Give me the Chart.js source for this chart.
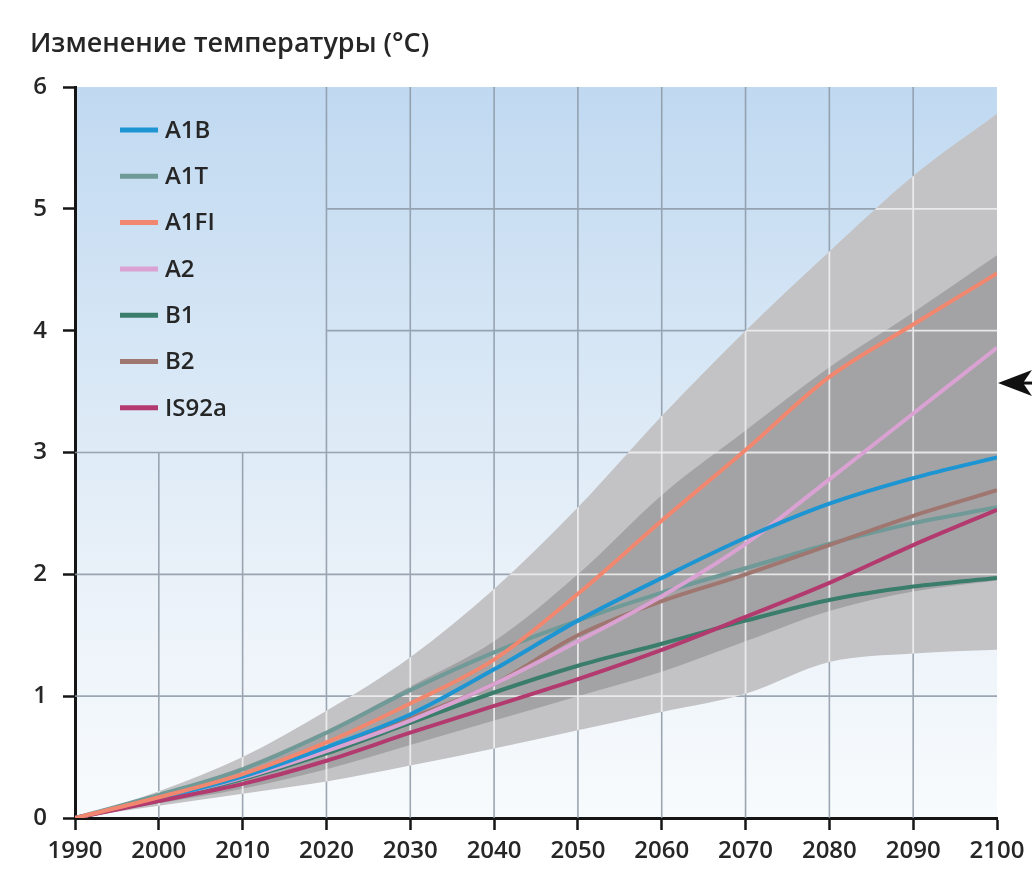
<!DOCTYPE html>
<html>
<head>
<meta charset="utf-8">
<script src="https://cdn.jsdelivr.net/npm/chart.js@4.4.1/dist/chart.umd.min.js"></script>
<style>
  html, body { margin: 0; padding: 0; background: #ffffff; }
  #wrap { position: relative; width: 1032px; height: 875px; }
  canvas { display: block; }
</style>
</head>
<body>
<div id="wrap"><canvas id="chart" width="1032" height="875"></canvas></div>
<script>
// ---- data ----
const years = [1990, 2000, 2010, 2020, 2030, 2040, 2050, 2060, 2070, 2080, 2090, 2100];
const yTickValues = [0, 1, 2, 3, 4, 5, 6];
const titleText = 'Изменение температуры (°C)';

const seriesNames  = ['A1B', 'A1T', 'A1FI', 'A2', 'B1', 'B2', 'IS92a'];
const seriesColors = ['#1c95d2', '#6f9a97', '#f2876f', '#d9a2d2', '#3b7d6b', '#a07670', '#b33a6e'];

const a1b   = [0, 0.16, 0.34, 0.58, 0.85, 1.22, 1.62, 1.97, 2.30, 2.58, 2.79, 2.96];
const a1t   = [0, 0.19, 0.40, 0.70, 1.05, 1.36, 1.62, 1.85, 2.05, 2.25, 2.42, 2.55];
const a1fi  = [0, 0.17, 0.36, 0.62, 0.94, 1.30, 1.84, 2.44, 3.02, 3.62, 4.05, 4.47];
const a2    = [0, 0.16, 0.33, 0.55, 0.80, 1.10, 1.45, 1.82, 2.25, 2.78, 3.32, 3.86];
const b1    = [0, 0.15, 0.32, 0.53, 0.78, 1.03, 1.25, 1.43, 1.62, 1.79, 1.90, 1.97];
const b2    = [0, 0.16, 0.34, 0.56, 0.82, 1.10, 1.50, 1.78, 2.00, 2.24, 2.48, 2.69];
const is92a = [0, 0.14, 0.28, 0.47, 0.70, 0.92, 1.14, 1.38, 1.65, 1.93, 2.24, 2.53];
const seriesValues = [a1b, a1t, a1fi, a2, b1, b2, is92a];

// full model range (light grey) and ensemble range (dark grey)
const outerHigh = [0, 0.22, 0.50, 0.88, 1.32, 1.88, 2.55, 3.30, 4.00, 4.65, 5.27, 5.78];
const outerLow  = [0, 0.10, 0.20, 0.30, 0.43, 0.57, 0.72, 0.87, 1.02, 1.28, 1.35, 1.38];
const innerHigh = [0, 0.19, 0.42, 0.72, 1.08, 1.45, 2.00, 2.65, 3.18, 3.70, 4.15, 4.62];
const innerLow  = [0, 0.12, 0.24, 0.40, 0.60, 0.80, 1.00, 1.20, 1.45, 1.70, 1.86, 1.95];

// marker on the right edge
const arrowValues = [3.57];

// the legend panel keeps the grid clear left of this year and above this value
const legendPanelYear = 2020;
const legendPanelValue = 3;

const FONT = '"Open Sans", "DejaVu Sans", sans-serif';
const TEXT = '#262626';

const toXY = arr => arr.map((v, i) => ({ x: years[i], y: v }));

// draw order: A1T underneath, A1FI on top
const lineOrder = [3, 7, 1, 4, 5, 6, 2];

const datasets = [];
seriesNames.forEach((name, i) => {
  datasets.push({
    label: name,
    data: toXY(seriesValues[i]),
    borderColor: seriesColors[i],
    borderWidth: 4,
    pointRadius: 0,
    fill: false,
    cubicInterpolationMode: 'monotone',
    order: lineOrder[i]
  });
});
const bandStart = datasets.length;
datasets.push(
  { label: 'range-high', data: toXY(outerHigh), borderWidth: 0, borderColor: 'rgba(0,0,0,0)', pointRadius: 0,
    backgroundColor: '#c3c3c5', fill: '+1', cubicInterpolationMode: 'monotone', order: 40 },
  { label: 'range-low', data: toXY(outerLow), borderWidth: 0, borderColor: 'rgba(0,0,0,0)', pointRadius: 0,
    fill: false, cubicInterpolationMode: 'monotone', order: 39 },
  { label: 'ensemble-high', data: toXY(innerHigh), borderWidth: 0, borderColor: 'rgba(0,0,0,0)', pointRadius: 0,
    backgroundColor: '#a3a3a5', fill: '+1', cubicInterpolationMode: 'monotone', order: 30 },
  { label: 'ensemble-low', data: toXY(innerLow), borderWidth: 0, borderColor: 'rgba(0,0,0,0)', pointRadius: 0,
    fill: false, cubicInterpolationMode: 'monotone', order: 29 }
);

function gridSegments(chart) {
  const xs = chart.scales.x, ys = chart.scales.y;
  const segs = [];
  for (let yr = 2000; yr <= 2090; yr += 10) {
    const x = xs.getPixelForValue(yr);
    const top = yr < legendPanelYear ? ys.getPixelForValue(legendPanelValue) : ys.getPixelForValue(6);
    segs.push([x, top, x, ys.getPixelForValue(0)]);
  }
  for (let v = 1; v <= 5; v++) {
    const y = ys.getPixelForValue(v);
    const left = v > legendPanelValue ? xs.getPixelForValue(legendPanelYear) : xs.getPixelForValue(1990);
    segs.push([left, y, xs.getPixelForValue(2100), y]);
  }
  return segs;
}

function strokeSegs(ctx, segs, color, width) {
  ctx.save();
  ctx.strokeStyle = color;
  ctx.lineWidth = width;
  ctx.beginPath();
  segs.forEach(s => { ctx.moveTo(s[0], s[1]); ctx.lineTo(s[2], s[3]); });
  ctx.stroke();
  ctx.restore();
}

const decor = {
  id: 'decor',
  beforeDraw(chart) {
    const { ctx, chartArea: a } = chart;
    const g = ctx.createLinearGradient(0, a.top, 0, a.bottom);
    g.addColorStop(0, '#c0d9f1');
    g.addColorStop(0.35, '#d6e6f5');
    g.addColorStop(0.7, '#ebf2f9');
    g.addColorStop(1, '#f8fbfd');
    ctx.save();
    ctx.fillStyle = g;
    ctx.fillRect(a.left, a.top, a.right - a.left, a.bottom - a.top);
    ctx.restore();
  },
  beforeDatasetsDraw(chart) {
    strokeSegs(chart.ctx, gridSegments(chart), 'rgba(140,152,165,0.85)', 1.6);
  },
  afterDatasetDraw(chart, args) {
    if (args.index !== bandStart + 3) return;
    const ctx = chart.ctx, a = chart.chartArea;
    const hi = chart.getDatasetMeta(bandStart).dataset;
    const lo = chart.getDatasetMeta(bandStart + 1).dataset;
    ctx.save();
    ctx.beginPath();
    hi.path(ctx);
    ctx.lineTo(a.right, a.bottom + 5);
    ctx.lineTo(a.left, a.bottom + 5);
    ctx.closePath();
    ctx.clip();
    ctx.beginPath();
    lo.path(ctx);
    ctx.lineTo(a.right, a.top - 5);
    ctx.lineTo(a.left, a.top - 5);
    ctx.closePath();
    ctx.clip();
    strokeSegs(ctx, gridSegments(chart), 'rgba(238,238,240,0.9)', 1.8);
    ctx.restore();
  },
  afterDraw(chart) {
    const { ctx, chartArea: a } = chart;
    ctx.save();
    // title
    ctx.fillStyle = TEXT;
    ctx.font = '600 27px ' + FONT;
    ctx.textBaseline = 'middle';
    ctx.textAlign = 'left';
    ctx.fillText(titleText, 30, 44);

    // legend
    ctx.font = '600 24px ' + FONT;
    seriesNames.forEach((name, i) => {
      const y = 130 + i * 46.3;
      ctx.strokeStyle = seriesColors[i];
      ctx.lineWidth = 5;
      ctx.beginPath();
      ctx.moveTo(120, y);
      ctx.lineTo(158, y);
      ctx.stroke();
      ctx.fillStyle = TEXT;
      ctx.fillText(name, 165, y + 1);
    });

    // arrow marker at the right edge
    ctx.fillStyle = '#111';
    ctx.strokeStyle = '#111';
    arrowValues.forEach(v => {
      const y = chart.scales.y.getPixelForValue(v);
      const tip = a.right + 1;
      ctx.lineWidth = 3;
      ctx.beginPath();
      ctx.moveTo(tip + 20, y);
      ctx.lineTo(1032, y);
      ctx.stroke();
      ctx.beginPath();
      ctx.moveTo(tip, y);
      ctx.lineTo(tip + 34, y - 13);
      ctx.lineTo(tip + 25, y);
      ctx.lineTo(tip + 34, y + 13);
      ctx.closePath();
      ctx.fill();
    });
    ctx.restore();
  }
};

new Chart(document.getElementById('chart'), {
  type: 'line',
  data: { datasets },
  options: {
    responsive: false,
    animation: false,
    devicePixelRatio: 1,
    layout: { padding: { top: 87, right: 35, left: 0, bottom: 0 } },
    plugins: { legend: { display: false }, tooltip: { enabled: false }, filler: { propagate: false } },
    scales: {
      x: {
        type: 'linear', min: 1990, max: 2100,
        afterBuildTicks: s => { s.ticks = years.map(v => ({ value: v })); },
        afterFit: s => { s.height = 57; },
        ticks: { color: TEXT, font: { family: FONT, size: 24, weight: '600' }, padding: 7, maxRotation: 0, autoSkip: false,
                 callback: v => String(v) },
        grid: { drawOnChartArea: false, drawTicks: true, tickLength: 12, tickColor: '#151515', tickWidth: 2.5 },
        border: { display: true, color: '#151515', width: 3 }
      },
      y: {
        min: 0, max: 6,
        afterBuildTicks: s => { s.ticks = yTickValues.map(v => ({ value: v })); },
        afterFit: s => { s.width = 75; },
        ticks: { color: TEXT, font: { family: FONT, size: 24, weight: '600' }, padding: 16, callback: v => String(v) },
        grid: { drawOnChartArea: false, drawTicks: true, tickLength: 12, tickColor: '#151515', tickWidth: 2.5 },
        border: { display: true, color: '#151515', width: 3 }
      }
    }
  },
  plugins: [decor]
});
</script>
</body>
</html>
